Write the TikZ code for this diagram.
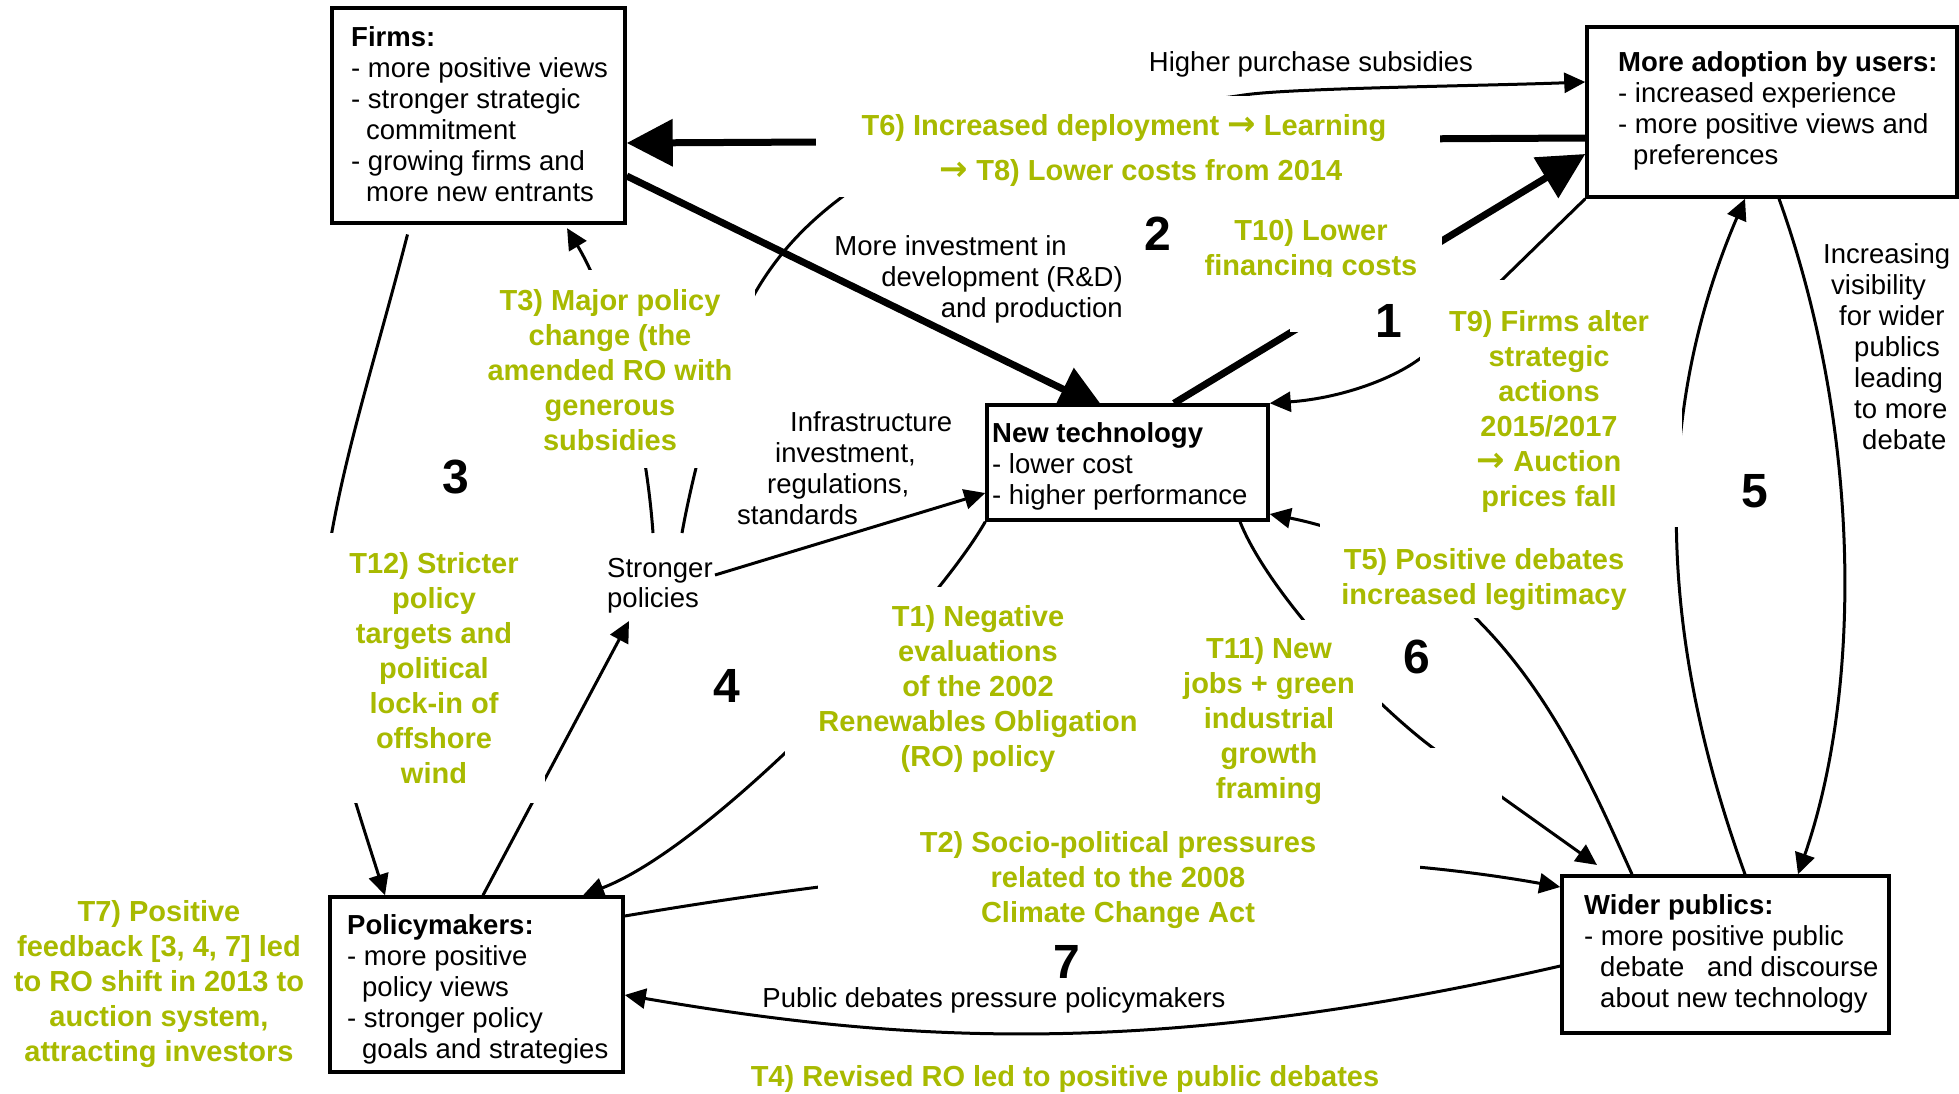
\documentclass[tikz,border=0pt]{standalone}
\usepackage{fontspec}
\setmainfont{Liberation Sans}
\newfontfamily\arrowfont{DejaVu Sans}
\usetikzlibrary{arrows.meta}
\definecolor{tgreen}{RGB}{168,186,0}
\pgfdeclarelayer{lines}
\pgfdeclarelayer{masks}
\pgfsetlayers{lines,masks,main}
\newcommand\txtsz{\fontsize{27.5}{31}\selectfont}
\newcommand\grnsz{\fontsize{29}{35}\selectfont\bfseries}
\newcommand\numsz{\fontsize{48}{48}\selectfont\bfseries}
\newcommand\rarr{{\arrowfont\bfseries\fontsize{34}{35}\selectfont →}}
\newcommand\linesL[1]{\begin{tabular}[t]{@{}l@{}}#1\end{tabular}}
\newcommand\linesC[1]{\begin{tabular}[t]{@{}c@{}}#1\end{tabular}}
\newcommand\linesR[1]{\begin{tabular}[t]{@{}r@{}}#1\end{tabular}}
\tikzset{
  box/.style={draw, line width=3.5pt, fill=white, inner sep=0pt},
  txt/.style={inner sep=0pt, font=\txtsz, text=black},
  grn/.style={inner sep=0pt, font=\grnsz, text=tgreen},
  num/.style={inner sep=0pt, font=\numsz},
  conn/.style={line width=3pt, -{Triangle[length=21pt,width=20pt]}},
  heavy/.style={line width=7pt, -{Triangle[length=46pt,width=46pt]}},
}
\begin{document}
\begin{tikzpicture}[x=1pt,y=-1pt]
\path[use as bounding box] (0,0) rectangle (1959,1093);

% actor boxes
\node[box, minimum width=293pt, minimum height=215pt] (firms) at (478.5,115.5) {};
\node[box, minimum width=370pt, minimum height=170pt] (adopt) at (1772,112) {};
\node[box, minimum width=281pt, minimum height=115pt] (nt) at (1127.5,462.5) {};
\node[box, minimum width=293pt, minimum height=175pt] (policy) at (476.5,984.5) {};
\node[box, minimum width=327pt, minimum height=157pt] (wider) at (1725.5,954.5) {};

\node[txt, anchor=base west] (firmsT) at (351,46) {\linesL{\textbf{Firms:}\\- more positive views\\- stronger strategic\\\hspace*{15pt}commitment\\- growing firms and\\\hspace*{15pt}more new entrants}};
\node[txt, anchor=base west] (adoptT) at (1618,71) {\linesL{\textbf{More adoption by users:}\\- increased experience\\- more positive views and\\\hspace*{15pt}preferences}};
\node[txt, anchor=base west] (ntT) at (992,442) {\linesL{\textbf{New technology}\\- lower cost\\- higher performance}};
\node[txt, anchor=base west] (policyT) at (347,934) {\linesL{\textbf{Policymakers:}\\- more positive\\\hspace*{15pt}policy views\\- stronger policy\\\hspace*{15pt}goals and strategies}};
\node[txt, anchor=base west] (widerT) at (1584,914) {\linesL{\textbf{Wider publics:}\\- more positive public\\\hspace*{16pt}debate\ \ \ and discourse\\\hspace*{16pt}about new technology}};

% black connector labels
\node[txt, anchor=base] (subsid) at (1311,71) {Higher purchase subsidies};
\node[txt, anchor=base east] (invest) at (1123,255) {\linesR{More investment in\hspace*{56pt}\\development (R\&D)\\and production}};
\node[txt, anchor=base west] (infra) at (737,431) {\linesL{\hspace*{53pt}Infrastructure\\\hspace*{38pt}investment,\\\hspace*{30pt}regulations,\\standards}};
\node[txt, anchor=base west, font=\fontsize{27.5}{30}\selectfont] (sp) at (607,577) {\linesL{Stronger\\policies}};
\node[txt, anchor=base west] (visib) at (1823,263) {\linesL{Increasing\\\hspace*{8pt}visibility\\\hspace*{16pt}for wider\\\hspace*{31pt}publics\\\hspace*{31pt}leading\\\hspace*{31pt}to more\\\hspace*{39pt}debate}};
\node[txt, anchor=base] (pubdeb) at (994,1007) {Public debates pressure policymakers};

% loose ends near the policy label
\coordinate (spA) at (653,533);
\coordinate (spB) at (682,533);
\coordinate (spC) at (715,575);
\coordinate (spD) at (629,621);

% connectors
\begin{pgfonlayer}{lines}
\fill[white] (0,0) rectangle (1959,1093);
\draw[heavy] (adopt.west |- 0,138) -- (firms.east |- 0,143);
\draw[conn] (spB) .. controls (697,450) and (730,340) .. (755,293)
  .. controls (777.5,254) and (806,224) .. (842,197)
  .. controls (940,123) and (1130,112) .. (1244,95)
  .. controls (1290,88) and (1480,86) .. (adopt.west |- 0,82);
\draw[heavy, shorten >=-14pt] (firms.east |- 0,176) -- (nt.north -| 1092,0);
\draw[heavy] (nt.north -| 1174,0) -- (adopt.west |- 0,154);
\draw[conn] (adopt.south west) -- (1430,350) .. controls (1405,375) and (1345,398) .. (nt.north east);
\draw[conn, shorten <=10pt] (firms.south -| 410,0) .. controls (370,380) and (335,480) .. (322,600)
  .. controls (315,680) and (345,770) .. (policy.north -| 385,0);
\draw[conn] (policy.north -| 483,0) -- (spD);
\draw[conn, shorten >=4pt] (spA) .. controls (645,420) and (610,300) .. (firms.south -| 565,0);
\draw[conn] (spC) -- (nt.west |- 0,493);
\draw[conn] (nt.south west) .. controls (935,610) and (715,845) .. (policy.north -| 583,0);
\draw[conn] (policy.east |- 0,916) .. controls (918,866) and (1264,834) .. (wider.west |- 0,887);
\draw[conn, shorten >=16pt] (nt.south -| 1240,0) .. controls (1268,592) and (1369,700) .. (1433,748) -- (wider.north -| 1610,0);
\draw[conn] (wider.north -| 1632,0) .. controls (1580,760) and (1500,560) .. (nt.east |- 0,514);
\draw[conn] (wider.west |- 0,966) .. controls (1150,1060) and (900,1042) .. (policy.east |- 0,995);
\draw[conn] (adopt.south -| 1779,0) .. controls (1862,430) and (1862,690) .. (wider.north -| 1798,0);
\draw[conn] (wider.north -| 1745,0) .. controls (1660,640) and (1650,420) .. (adopt.south -| 1745,0);
\end{pgfonlayer}

% white grounds of the annotation labels
\begin{pgfonlayer}{masks}
\fill[white] (816,96) rectangle (1440,197);
\fill[white] (1180,200) rectangle (1442,277);
\node[grn, anchor=base] (t10) at (1311,240) {\linesC{T10) Lower\\financing costs}};
\fill[white] (1290,277) rectangle (1442,332);
\fill[white] (1420,280) rectangle (1682,527);
\fill[white] (1320,522) rectangle (1650,618);
\fill[white] (1170,620) rectangle (1382,805);
\fill[white] (1382,748) rectangle (1502,858);
\fill[white] (818,805) rectangle (1420,935);
\fill[white] (785,587) rectangle (1160,775);
\fill[white] (470,270) rectangle (755,468);
\fill[white] (300,533) rectangle (545,803);
\end{pgfonlayer}

% annotation labels
\node[grn, anchor=base] (t6) at (1124,135) {\linesC{T6) Increased deployment \rarr{} Learning\\[10pt]\hspace*{34pt}\rarr{} T8) Lower costs from 2014}};
\node[grn, anchor=base] (t3) at (610,310) {\linesC{T3) Major policy\\change (the\\amended RO with\\generous\\subsidies}};
\node[grn, anchor=base] (t9) at (1549,331) {\linesC{T9) Firms alter\\strategic\\actions\\2015/2017\\\rarr{} Auction\\prices fall}};
\node[grn, anchor=base] (t12) at (434,573) {\linesC{T12) Stricter\\policy\\targets and\\political\\lock-in of\\offshore\\wind}};
\node[grn, anchor=base] (t5) at (1484,569) {\linesC{T5) Positive debates\\increased legitimacy}};
\node[grn, anchor=base] (t1) at (978,626) {\linesC{T1) Negative\\evaluations\\of the 2002\\Renewables Obligation\\(RO) policy}};
\node[grn, anchor=base] (t11) at (1269,658) {\linesC{T11) New\\jobs + green\\industrial\\growth\\framing}};
\node[grn, anchor=base] (t2) at (1118,852) {\linesC{T2) Socio-political pressures\\related to the 2008\\Climate Change Act}};
\node[grn, anchor=base] (t7) at (159,921) {\linesC{T7) Positive\\feedback [3, 4, 7] led\\to RO shift in 2013 to\\auction system,\\attracting investors}};
\node[grn, anchor=base] (t4) at (1065,1086) {T4) Revised RO led to positive public debates};

% loop numbers
\node[num, anchor=base] (n1) at (1389,337) {1};
\node[num, anchor=base] (n2) at (1158,250) {2};
\node[num, anchor=base] (n3) at (456,493) {3};
\node[num, anchor=base] (n4) at (727,702) {4};
\node[num, anchor=base] (n5) at (1755,507) {5};
\node[num, anchor=base] (n6) at (1417,673) {6};
\node[num, anchor=base] (n7) at (1067,978) {7};
\end{tikzpicture}
\end{document}
